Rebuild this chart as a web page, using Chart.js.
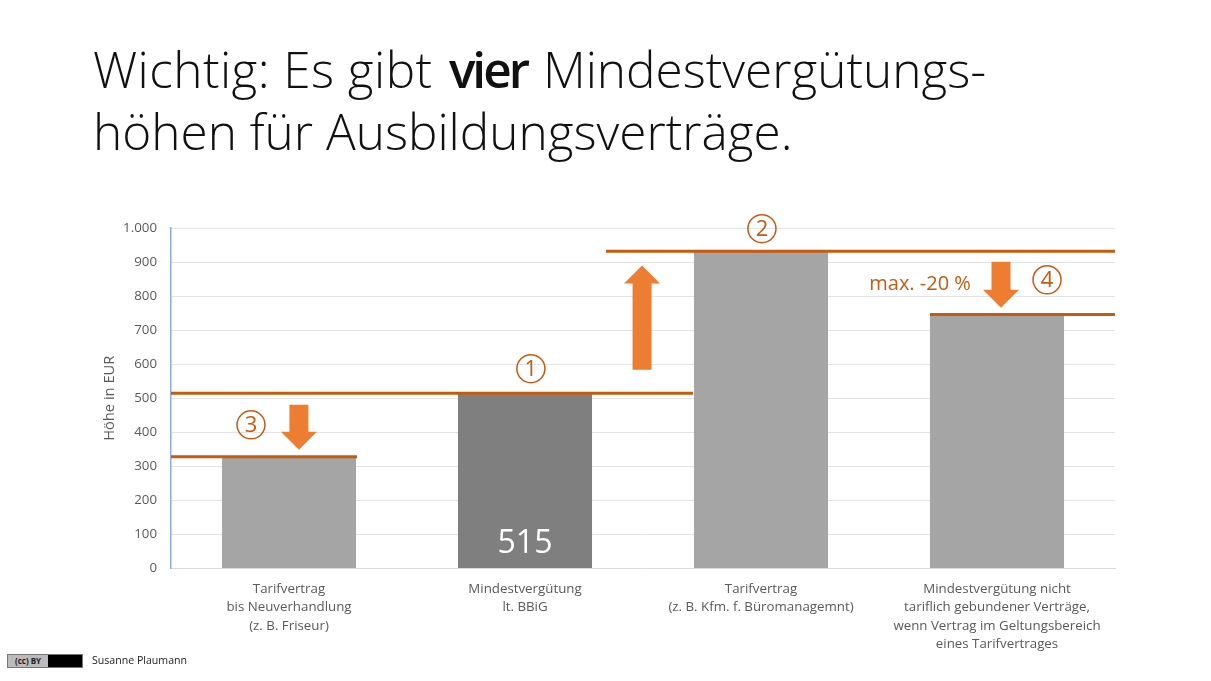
<!DOCTYPE html>
<html lang="de"><head><meta charset="utf-8">
<style>
html,body{margin:0;padding:0;background:#fff;width:1211px;height:681px;overflow:hidden;font-family:"Open Sans",sans-serif}
#wrap{position:absolute;left:0;top:0;width:1211px;height:681px}
#title{position:absolute;left:93px;top:38px;font-size:49.5px;line-height:62px;font-weight:300;color:#111;white-space:nowrap;z-index:2}
#title b{font-weight:600;letter-spacing:-3px;margin-left:3px;margin-right:3px}
#title i{font-style:normal;letter-spacing:.45px}
#badge{position:absolute;left:7px;top:654px;width:74px;height:12px;border:1px solid #777;background:#000;z-index:2;overflow:hidden}
#badge span{position:absolute;left:0;top:0;width:40px;height:12px;background:#bbb;color:#222;font-size:8px;line-height:12px;text-align:center;font-weight:700;white-space:nowrap}
#author{position:absolute;left:92px;top:653px;font-size:10.6px;line-height:14px;color:#222;z-index:2}
</style></head><body>
<div id="wrap"><canvas id="c" width="1211" height="681"></canvas></div>
<div id="title"><i>Wichtig: Es gibt </i><b>vier</b> Mindestvergütungs-<br>höhen für Ausbildungsverträge.</div>
<div id="badge"><span>(cc) BY</span></div>
<div id="author">Susanne Plaumann</div>
<script src="https://cdn.jsdelivr.net/npm/chart.js@4"></script>
<script>
const categories = [
  ["Tarifvertrag","bis Neuverhandlung","(z. B. Friseur)"],
  ["Mindestvergütung","lt. BBiG"],
  ["Tarifvertrag","(z. B. Kfm. f. Büromanagemnt)"],
  ["Mindestvergütung nicht","tariflich gebundener Verträge,","wenn Vertrag im Geltungsbereich","eines Tarifvertrages"]
];
const values = [325, 515, 930, 745];
const barColors = ["#a5a5a5","#7f7f7f","#a5a5a5","#a5a5a5"];
const yTicks = [0,100,200,300,400,500,600,700,800,900,1000];
// reference lines: x from, x to (category units), level (EUR)
const lineFrom = [-0.5, 1.343, -0.5, 2.716];
const lineTo = [1.712, 3.5, 0.288, 3.5];
const lineLevel = [515, 932, 328, 746];
// arrows: x in category units, from / to in EUR
const arrowX = [1.496, 0.042, 3.017];
const arrowFrom = [584, 481, 901];
const arrowTo = [890, 349, 766];
// callouts
const calloutText = ["1","2","3","4"];
const calloutX = [1.025, 2.004, -0.161, 3.212];
const calloutY = [587, 998, 422, 848];
const noteText = "max. -20 %";
const noteX = 2.674; const noteY = 834;
const barLabel = "515";

const ORANGE="#c55a11";
const overlay = {
  id:'overlay',
  afterDatasetsDraw(chart){
    const {ctx,scales} = chart; const X=scales.x, Y=scales.y;
    ctx.save();
    // reference lines
    ctx.strokeStyle=ORANGE;ctx.lineWidth=3;
    lineLevel.forEach((v,i)=>{
      const y=Y.getPixelForValue(v);
      ctx.beginPath();ctx.moveTo(X.getPixelForValue(lineFrom[i]),y);ctx.lineTo(X.getPixelForValue(lineTo[i]),y);ctx.stroke();
    });
    // arrows
    ctx.fillStyle="#ed7d31";
    arrowX.forEach((v,i)=>{
      const x=X.getPixelForValue(v), a=Y.getPixelForValue(arrowFrom[i]), b=Y.getPixelForValue(arrowTo[i]);
      const d=b>a?1:-1, sw=9.5, hw=18, hl=18;
      ctx.beginPath();
      ctx.moveTo(x-sw,a);ctx.lineTo(x+sw,a);ctx.lineTo(x+sw,b-d*hl);ctx.lineTo(x+hw,b-d*hl);
      ctx.lineTo(x,b);ctx.lineTo(x-hw,b-d*hl);ctx.lineTo(x-sw,b-d*hl);ctx.closePath();ctx.fill();
    });
    ctx.fillStyle=ORANGE;ctx.strokeStyle=ORANGE;ctx.textAlign='center';ctx.textBaseline='middle';
    ctx.lineWidth=1.5;
    ctx.font='400 22px "Open Sans"';
    calloutText.forEach((t,i)=>{
      const x=X.getPixelForValue(calloutX[i]), y=Y.getPixelForValue(calloutY[i]);
      ctx.beginPath();ctx.arc(x,y,14,0,Math.PI*2);ctx.stroke();
      ctx.fillText(t,x,y+1);
    });
    ctx.font='20px "Open Sans"';
    ctx.fillText(noteText,X.getPixelForValue(noteX),Y.getPixelForValue(noteY));
    ctx.fillStyle="#fff";ctx.font='32px "Open Sans"';
    ctx.fillText(barLabel,X.getPixelForValue(1),Y.getPixelForValue(72));
    ctx.restore();
  }
};
new Chart(document.getElementById('c'),{
  type:'bar',
  data:{labels:categories,datasets:[
    {data:values,backgroundColor:barColors,barPercentage:0.568,categoryPercentage:1}
  ]},
  options:{
    responsive:false,animation:false,devicePixelRatio:1,
    layout:{padding:{left:101,right:96,top:228,bottom:20}},
    plugins:{legend:{display:false},tooltip:{enabled:false},title:{display:false}},
    scales:{
      x:{offset:true,
        grid:{display:false},border:{color:'#d9d9d9'},
        ticks:{color:'#595959',font:{family:'"Open Sans"',size:13.3,lineHeight:1.39},padding:3,maxRotation:0,autoSkip:false},
        afterFit(s){s.height=92.5}},
      y:{min:0,max:1000,afterBuildTicks(s){s.ticks=yTicks.map(v=>({value:v}))},
        grid:{color:'#e3e3e3',drawTicks:false},border:{color:'#8faadc',width:1.5},
        ticks:{color:'#595959',font:{family:'"Open Sans"',size:13.3},padding:14,
          callback:v=>v.toLocaleString('de-DE')},
        title:{display:true,text:'Höhe in EUR',color:'#595959',font:{family:'"Open Sans"',size:14.7},padding:0},
        afterFit(s){s.width=70}}
    }
  },
  plugins:[overlay]
});
</script></body></html>
